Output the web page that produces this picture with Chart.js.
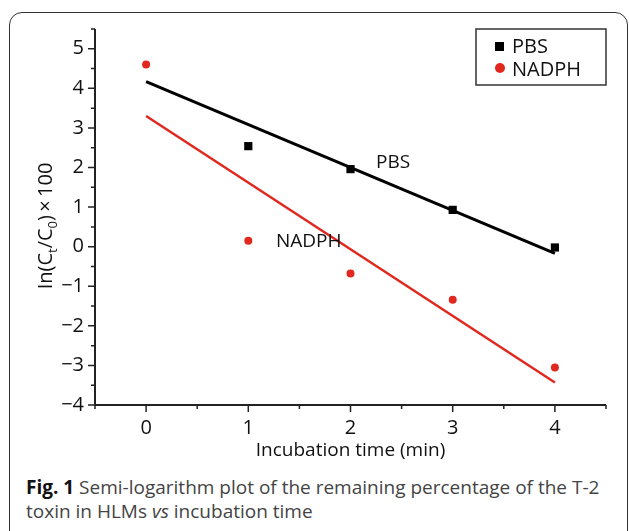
<!DOCTYPE html>
<html>
<head>
<meta charset="utf-8">
<script src="https://cdn.jsdelivr.net/npm/chart.js@4.4.0/dist/chart.umd.min.js"></script>
<style>
  body { margin: 0; background: #fff; font-family: "Open Sans", sans-serif; }
  #page { position: relative; width: 629px; height: 531px; overflow: hidden; }
  #card { position: absolute; left: 9px; top: 12px; width: 617px; height: 530px;
          border: 1.5px solid #333; border-radius: 13px; }
  #wrap { position: absolute; left: 0; top: 0; width: 629px; height: 470px; }
  #caption { position: absolute; left: 26px; top: 475px; font-size: 19px; line-height: 24px; color: #444; }
  #caption b { color: #111; }
</style>
</head>
<body>
<div id="page">
  <div id="card"></div>
  <div id="wrap"><canvas id="chart"></canvas></div>
  <div id="caption"><b>Fig. 1</b> Semi-logarithm plot of the remaining percentage of the T-2<br>toxin in HLMs <i>vs</i> incubation time</div>
</div>
<script>
const times = [0, 1, 2, 3, 4];
const pbsValues = [null, 2.54, 1.96, 0.93, -0.02];
const nadphValues = [4.6, 0.15, -0.68, -1.34, -3.05];
const fitTimes = [0, 4];
const pbsFit = [4.17, -0.17];
const nadphFit = [3.3, -3.43];
const xTickLabels = [0, 1, 2, 3, 4];
const yTickLabels = [-4, -3, -2, -1, 0, 1, 2, 3, 4, 5];

const RED = "#e0281e";
const FONT = "Open Sans";

const toPoints = (xs, ys) => xs.map((x, i) => ({ x: x, y: ys[i] }));

// axis lines, tick marks, titles, legend box and line labels
const decorPlugin = {
  id: "decor",
  afterDraw(chart) {
    const ctx = chart.ctx;
    const area = chart.chartArea;
    const xs = chart.scales.x;
    const ys = chart.scales.y;
    ctx.save();
    ctx.strokeStyle = "#222";
    ctx.lineWidth = 2;
    ctx.beginPath();
    ctx.moveTo(area.left, area.top);
    ctx.lineTo(area.left, area.bottom);
    ctx.lineTo(area.right, area.bottom);
    ctx.stroke();

    ctx.lineWidth = 1.5;
    ctx.beginPath();
    ys.ticks.forEach((t) => {
      const y = ys.getPixelForValue(t.value);
      const len = Number.isInteger(t.value) ? 7 : 4;
      ctx.moveTo(area.left - len, y);
      ctx.lineTo(area.left, y);
    });
    xs.ticks.forEach((t) => {
      const x = xs.getPixelForValue(t.value);
      const len = Number.isInteger(t.value) ? 7 : 4;
      ctx.moveTo(x, area.bottom);
      ctx.lineTo(x, area.bottom + len);
    });
    ctx.stroke();

    // x title
    ctx.fillStyle = "#111";
    ctx.font = "19px '" + FONT + "'";
    ctx.textAlign = "center";
    ctx.textBaseline = "alphabetic";
    ctx.fillText("Incubation time (min)", (area.left + area.right) / 2, 456);

    // y title with subscripts
    ctx.save();
    ctx.translate(52, 226);
    ctx.rotate(-Math.PI / 2);
    const parts = [
      ["In(C", 20, 0], ["t", 13, 5], ["/C", 20, 0], ["0", 13, 5], [")\u2009\u00d7\u2009100", 20, 0]
    ];
    let total = 0;
    parts.forEach((p) => {
      ctx.font = p[1] + "px '" + FONT + "'";
      total += ctx.measureText(p[0]).width;
    });
    let cx = -total / 2;
    ctx.textAlign = "left";
    parts.forEach((p) => {
      ctx.font = p[1] + "px '" + FONT + "'";
      ctx.fillText(p[0], cx, p[2]);
      cx += ctx.measureText(p[0]).width;
    });
    ctx.restore();

    // line labels
    ctx.font = "19px '" + FONT + "'";
    ctx.textAlign = "left";
    ctx.fillText("PBS", xs.getPixelForValue(2.25), ys.getPixelForValue(2.0));
    ctx.fillText("NADPH", xs.getPixelForValue(1.27), ys.getPixelForValue(0.0));

    // legend
    const bw = 130, bh = 56;
    const bx = area.right - bw, by = area.top;
    ctx.lineWidth = 1.5;
    ctx.strokeStyle = "#333";
    ctx.strokeRect(bx, by, bw, bh);
    ctx.fillStyle = "#000";
    ctx.fillRect(bx + 19, by + 13, 9, 9);
    ctx.fillStyle = RED;
    ctx.beginPath();
    ctx.arc(bx + 24, by + 39, 5, 0, Math.PI * 2);
    ctx.fill();
    ctx.fillStyle = "#111";
    ctx.font = "20px '" + FONT + "'";
    ctx.fillText("PBS", bx + 36, by + 24);
    ctx.fillText("NADPH", bx + 36, by + 47);
    ctx.restore();
  }
};

const tickFont = { family: FONT, size: 20 };

new Chart(document.getElementById("chart"), {
  type: "scatter",
  data: {
    datasets: [
      {
        label: "NADPH",
        data: toPoints(times, nadphValues),
        backgroundColor: RED,
        borderColor: RED,
        pointRadius: 4,
        pointBorderWidth: 0
      },
      {
        label: "PBS",
        data: toPoints(times, pbsValues),
        backgroundColor: "#000",
        borderColor: "#000",
        pointStyle: "rect",
        pointRadius: 5.8,
        pointBorderWidth: 0
      },
      {
        label: "PBS fit",
        data: toPoints(fitTimes, pbsFit),
        showLine: true,
        borderColor: "#000",
        borderWidth: 3,
        pointRadius: 0
      },
      {
        label: "NADPH fit",
        data: toPoints(fitTimes, nadphFit),
        showLine: true,
        borderColor: RED,
        borderWidth: 2.5,
        pointRadius: 0
      }
    ]
  },
  options: {
    responsive: true,
    maintainAspectRatio: false,
    animation: false,
    layout: { padding: { left: 0, right: 23, top: 29, bottom: 0 } },
    plugins: { legend: { display: false }, tooltip: { enabled: false } },
    scales: {
      x: {
        type: "linear",
        min: -0.5,
        max: 4.5,
        ticks: {
          stepSize: 0.5,
          autoSkip: false,
          maxRotation: 0,
          padding: 11,
          color: "#111",
          font: tickFont,
          callback: (v) => (xTickLabels.includes(v) ? String(v) : "")
        },
        grid: { display: false, drawTicks: false },
        border: { display: false },
        afterFit: (s) => { s.height = 65; }
      },
      y: {
        type: "linear",
        min: -4,
        max: 5.5,
        ticks: {
          stepSize: 0.5,
          autoSkip: false,
          padding: 11,
          color: "#111",
          font: tickFont,
          callback: (v) => (yTickLabels.includes(v) ? (v < 0 ? "\u2212" + Math.abs(v) : String(v)) : "")
        },
        grid: { display: false, drawTicks: false },
        border: { display: false },
        afterFit: (s) => { s.width = 95; }
      }
    }
  },
  plugins: [decorPlugin]
});
</script>
</body>
</html>
